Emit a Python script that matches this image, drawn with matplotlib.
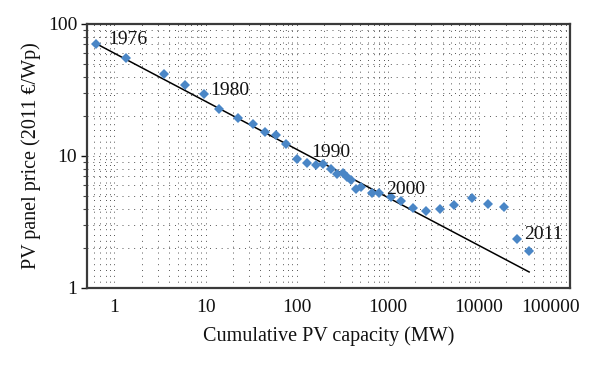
import matplotlib
matplotlib.use("Agg")
import matplotlib.pyplot as plt
import matplotlib.ticker as mticker
import matplotlib.transforms as mtransforms
import numpy as np

# Cumulative PV capacity (MW) and panel price (2011 EUR/Wp)
capacity = [0.63, 1.33, 3.5, 5.9, 9.55, 14.2, 22.5, 33.2, 45.0, 59.8, 77.1, 102,
            129, 163, 193, 237, 280, 321, 355, 393, 443, 509, 672, 802, 1074,
            1380, 1893, 2630, 3700, 5300, 8360, 12600, 18800, 26200, 35600]
price = [70.9, 55.2, 41.8, 34.7, 29.3, 22.6, 19.3, 17.6, 15.2, 14.3, 12.3, 9.41,
         8.81, 8.55, 8.70, 7.93, 7.31, 7.39, 6.90, 6.58, 5.60, 5.82, 5.22, 5.22,
         4.85, 4.59, 4.02, 3.83, 3.95, 4.25, 4.82, 4.35, 4.12, 2.36, 1.90]

# Power-law trend (experience curve): price = coef * capacity ** exp
trend_coef = 60.0
trend_exp = -0.364

# Year labels and the data point index they annotate
year_labels = ["1976", "1980", "1990", "2000", "2011"]
year_index = [0, 4, 11, 23, 33]

x_ticks = [1, 10, 100, 1000, 10000, 100000]
x_tick_labels = ["1", "10", "100", "1000", "10000", "100000"]
y_ticks = [1, 10, 100]
y_tick_labels = ["1", "10", "100"]

plt.rcParams['font.family'] = ['Liberation Serif', 'DejaVu Serif']

fig = plt.figure(figsize=(6.0, 3.68), dpi=100)
ax = fig.add_axes([0.145, 0.2174, 0.805, 0.7174])

ax.set_xscale('log')
ax.set_yscale('log')
ax.set_xlim(0.5, 100000)
ax.set_ylim(1, 100)

# grid
ax.xaxis.set_minor_locator(mticker.LogLocator(base=10, subs=np.arange(2, 10), numticks=20))
ax.yaxis.set_minor_locator(mticker.LogLocator(base=10, subs=np.arange(2, 10), numticks=20))
ax.xaxis.set_minor_formatter(mticker.NullFormatter())
ax.yaxis.set_minor_formatter(mticker.NullFormatter())
ax.grid(True, which='both', color='#555555', linestyle=(0, (1, 5)), linewidth=0.7)
ax.set_axisbelow(True)

# trend line
tx = np.array([capacity[0], capacity[-1]])
ax.plot(tx, trend_coef * tx ** trend_exp, color='black', linewidth=1.1, zorder=2)

# data points
ax.plot(capacity, price, linestyle='none', marker='D', markersize=5.5,
        color='#4a86c6', markeredgewidth=0, zorder=3)

for lab, i in zip(year_labels, year_index):
    off = (9, 3) if i == 0 else ((10, 5) if i == 11 else (5, 3))
    ax.annotate(lab, xy=(capacity[i], price[i]), xytext=off,
                textcoords='offset points', fontsize=14, ha='left', va='center',
                color='#111111', zorder=4)

ax.xaxis.set_major_locator(mticker.FixedLocator(x_ticks))
ax.xaxis.set_major_formatter(mticker.FixedFormatter(x_tick_labels))
ax.yaxis.set_major_locator(mticker.FixedLocator(y_ticks))
ax.yaxis.set_major_formatter(mticker.FixedFormatter(y_tick_labels))

ax.tick_params(axis='x', which='both', length=0, pad=8, labelsize=14, colors='#111111')
ax.tick_params(axis='y', which='major', length=4, width=1, pad=3, labelsize=14, colors='#111111', direction='out')
ax.tick_params(axis='y', which='minor', length=3, width=0.8, direction='out', colors='#444444')

for s in ax.spines.values():
    s.set_color('#3a3a3a')
    s.set_linewidth(1.6)

# keep the last x label inside, like the original
labels = ax.get_xticklabels()
last = labels[-1]
last.set_ha('right')
last.set_transform(last.get_transform() + mtransforms.ScaledTranslation(10 / 100, 0, fig.dpi_scale_trans))

ax.set_xlabel("Cumulative PV capacity (MW)", fontsize=14.5, labelpad=7, color='#111111')
ax.set_ylabel("PV panel price (2011 €/Wp)", fontsize=14.5, labelpad=5, color='#111111')

fig.savefig("out.png", dpi=100)
